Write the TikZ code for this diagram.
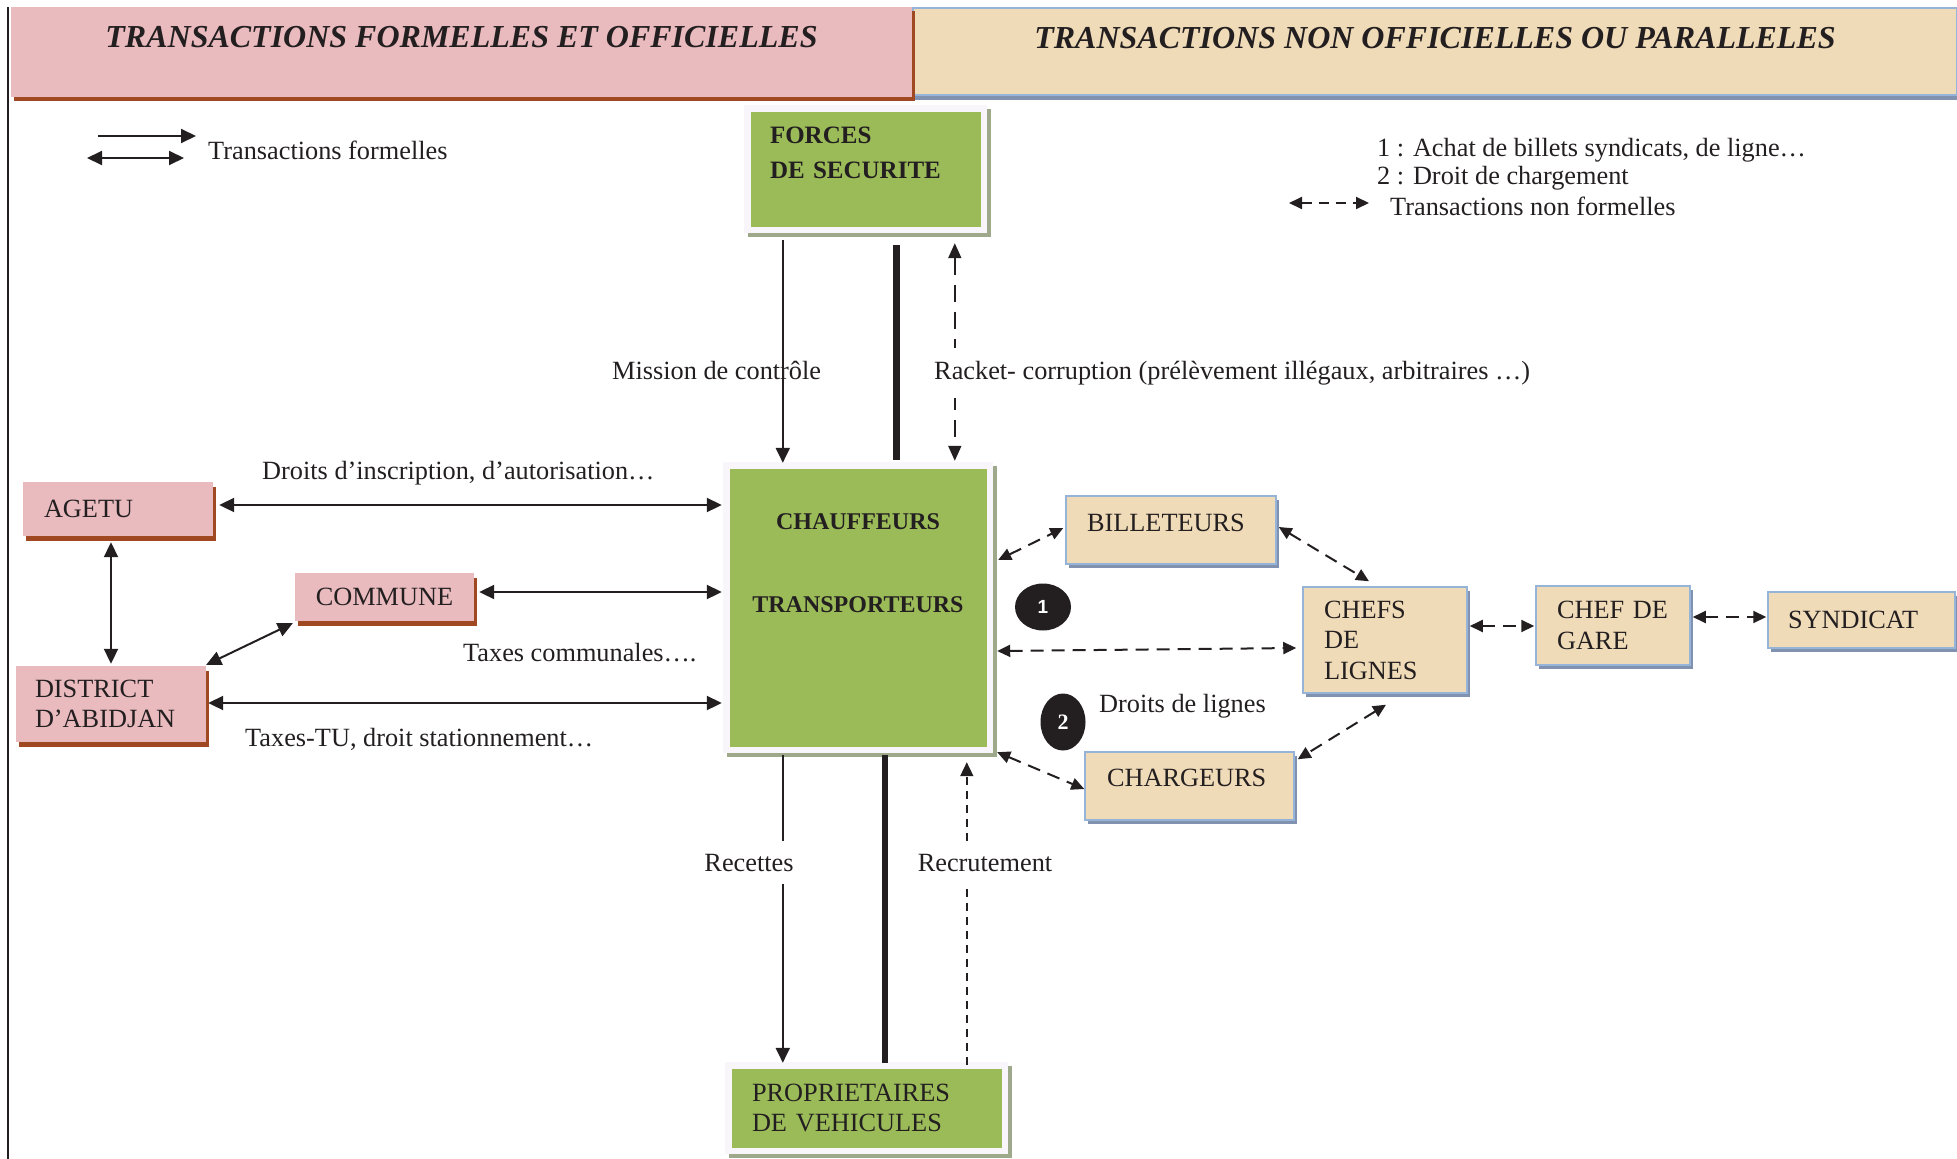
\documentclass[tikz,border=0pt]{standalone}
\usepackage{fontspec}
\setmainfont{Liberation Serif}
\newfontfamily\sansbold{Liberation Sans}
\usetikzlibrary{arrows.meta,shadows,calc,shapes.geometric}
\definecolor{ink}{RGB}{35,31,32}
\definecolor{pinkfill}{RGB}{233,186,190}
\definecolor{pinkshadow}{RGB}{160,72,34}
\definecolor{beigefill}{RGB}{240,219,184}
\definecolor{bluebord}{RGB}{150,180,215}
\definecolor{blueshadow}{RGB}{128,146,176}
\definecolor{gfill}{RGB}{155,187,89}
\definecolor{framewhite}{RGB}{248,246,250}
\definecolor{gshadow}{RGB}{158,168,138}
\begin{document}
\begin{tikzpicture}[x=1pt,y=-1pt,
  every node/.style={text=ink},
  txt/.style={font=\fontsize{26.3}{30}\selectfont, inner sep=0pt},
  pinkbox/.style={fill=pinkfill, inner sep=0pt, font=\fontsize{26.3}{30}\selectfont,
    drop shadow={shadow xshift=3pt, shadow yshift=-5pt, fill=pinkshadow, opacity=1, draw=none}},
  beigebox/.style={fill=beigefill, draw=bluebord, line width=1.5pt, inner sep=0pt,
    font=\fontsize{26.3}{30.5}\selectfont,
    drop shadow={shadow xshift=3pt, shadow yshift=-4pt, fill=blueshadow, opacity=1, draw=none}},
  greenbox/.style={fill=framewhite, inner sep=0pt,
    drop shadow={shadow xshift=4pt, shadow yshift=-4pt, fill=gshadow, opacity=1, draw=none},
    path picture={\fill[gfill] ([shift={(6.5pt,-6.5pt)}]path picture bounding box.north west)
      rectangle ([shift={(-6pt,6pt)}]path picture bounding box.south east);}},
  sar/.style={line width=2pt, draw=ink, -{Triangle[length=15pt,width=14pt]}},
  dsar/.style={line width=2pt, draw=ink, {Triangle[length=15pt,width=14pt]}-{Triangle[length=15pt,width=14pt]}},
  dar/.style={line width=2pt, draw=ink, dash pattern=on 13pt off 8pt,
    {Triangle[length=13pt,width=12pt]}-{Triangle[length=13pt,width=12pt]}},
  whitelab/.style={txt, fill=white, inner ysep=13pt}
]
\useasboundingbox (0,0) rectangle (1957,1159);

% headers
\node[fill=beigefill, draw=bluebord, line width=1.5pt, inner sep=0pt,
  minimum width=1044pt, minimum height=87pt,
  drop shadow={shadow xshift=0pt, shadow yshift=-5pt, fill=blueshadow, opacity=1, draw=none},
  font=\fontsize{32}{36}\selectfont\bfseries\itshape, text height=22pt, text depth=29pt]
  (head2) at (1435,51.5) {TRANSACTIONS NON OFFICIELLES OU PARALLELES};
\node[fill=pinkfill, inner sep=0pt, minimum width=901pt, minimum height=90pt,
  drop shadow={shadow xshift=3pt, shadow yshift=-4pt, fill=pinkshadow, opacity=1, draw=none},
  font=\fontsize{32}{36}\selectfont\bfseries\itshape, text height=22pt, text depth=32pt]
  (head1) at (461.5,52) {TRANSACTIONS FORMELLES ET OFFICIELLES};

\draw[line width=2pt, ink] (8,7) -- (8,1159);

% legends
\draw[sar] (98,136) -- (196,136);
\draw[dsar] (87,158) -- (184,158);
\node[txt, anchor=base west] (leg1) at (208,159) {Transactions formelles};
\node[txt, anchor=base west] (leg2) at (1377,156) {1 : Achat de billets syndicats, de ligne…};
\node[txt, anchor=base west] (leg3) at (1377,184) {2 : Droit de chargement};
\draw[dar, dash pattern=on 10pt off 7pt] (1289,203) -- (1369,203);
\node[txt, anchor=base west] (leg4) at (1390,215) {Transactions non formelles};

% green boxes
\node[greenbox, minimum width=243pt, minimum height=128pt,
  font=\fontsize{25}{35}\selectfont\bfseries, text width=191pt, inner xsep=26pt, align=left,
  text height=18pt, text depth=69pt] (forces) at (865.5,169) {FORCES\\DE SECURITE};
\node[greenbox, minimum width=270pt, minimum height=291pt,
  font=\fontsize{24}{83}\selectfont\bfseries, text width=240pt, inner xsep=15pt, align=center,
  text height=17pt, text depth=174pt] (chauf) at (858,607.5) {CHAUFFEURS\\TRANSPORTEURS};
\node[greenbox, minimum width=283pt, minimum height=92pt,
  font=\fontsize{26.3}{30}\selectfont, text width=229pt, inner xsep=27pt, align=left]
  (prop) at (866.5,1108) {PROPRIETAIRES\\DE VEHICULES};

% pink boxes
\node[pinkbox, minimum height=54pt, text width=148pt, inner xsep=21pt, align=left]
  (agetu) at (118,509) {AGETU};
\node[pinkbox, minimum width=179pt, minimum height=48pt] (commune) at (384.5,597) {COMMUNE};
\node[pinkbox, minimum height=76pt, text width=152pt, inner xsep=19pt, align=left]
  (district) at (111,704) {DISTRICT\\D’ABIDJAN};

% beige boxes
\node[beigebox, minimum height=68pt, text width=168pt, inner xsep=21pt, align=left,
  text height=18pt, text depth=15pt] (bil) at (1171,530) {BILLETEURS};
\node[beigebox, minimum height=106pt, text width=122pt, inner xsep=21pt, align=left]
  (chefs) at (1385,640) {CHEFS\\DE\\LIGNES};
\node[beigebox, minimum height=79pt, text width=112pt, inner xsep=21pt, align=left]
  (gare) at (1613,625.5) {CHEF DE\\GARE};
\node[beigebox, minimum height=56pt, text width=147pt, inner xsep=20pt, align=left]
  (synd) at (1861.5,620) {SYNDICAT};
\node[beigebox, minimum height=68pt, text width=165pt, inner xsep=22pt, align=left,
  text height=18pt, text depth=17pt] (charg) at (1189.5,786) {CHARGEURS};

% numbered ellipses
\node[ellipse, fill=ink, minimum width=56pt, minimum height=47pt, inner sep=0pt, text=white,
  font=\sansbold\bfseries\fontsize{19}{19}\selectfont] (c1) at (1043,607) {1};
\node[ellipse, fill=ink, minimum width=45pt, minimum height=57pt, inner sep=0pt, text=white,
  font=\bfseries\fontsize{22}{22}\selectfont] (c2) at (1063,722) {2};

% top connectors
\draw[sar] ($(forces.south west)+(39,7)$) -- ($(chauf.north west)+(60,1)$);
\draw[line width=7pt, ink] ($(forces.south west)+(153,12)$) -- ($(chauf.north west)+(174,-2)$);
\draw[line width=1.8pt, draw=ink, dash pattern=on 17pt off 10pt,
  {Triangle[length=15pt,width=13pt]}-{Triangle[length=15pt,width=13pt]}]
  ($(forces.south west)+(211,10)$) -- ($(chauf.north west)+(232,-1)$);
\node[txt, anchor=base west] (lmission) at (612,379) {Mission de contrôle};
\node[whitelab, anchor=base west, inner xsep=0pt] (lracket) at (934,379)
  {Racket- corruption (prélèvement illégaux, arbitraires …)};

% left connectors
\draw[dsar] ($(agetu.east)+(6,-4)$) -- ($(agetu.east -| chauf.west)+(-1,-4)$);
\draw[dsar] ($(commune.east)+(5,-5)$) -- ($(commune.east -| chauf.west)+(-1,-5)$);
\draw[dsar] ($(district.east)+(2,-1)$) -- ($(district.east -| chauf.west)+(-1,-1)$);
\draw[dsar] ($(agetu.south)+(-7,6)$) -- ($(district.north)+(0,-2)$);
\draw[dsar] ($(commune.south west)+(-2,2)$) -- ($(district.north east)+(0,-1)$);
\node[txt, anchor=base west] (linscr) at (262,479) {Droits d’inscription, d’autorisation…};
\node[txt, anchor=base west] (ltaxc) at (463,661) {Taxes communales….};
\node[txt, anchor=base west] (ltaxtu) at (245,746) {Taxes-TU, droit stationnement…};

% right dashed connectors
\draw[dar] ($(chauf.east)+(5,-47.5)$) -- ($(bil.west)+(-2,-2)$);
\draw[dar] ($(bil.east)+(2,-3)$) -- ($(chefs.north)+(-16,-5)$);
\draw[dar] ($(chauf.east)+(4,43.5)$) -- ($(chefs.west)+(-6,8)$);
\draw[dar] ($(chefs.east)+(2,-14)$) -- ($(gare.west)+(-1,0.5)$);
\draw[dar] ($(gare.east)+(2,-8.5)$) -- ($(synd.west)+(-1,-3)$);
\draw[dar] ($(chefs.south)+(1,11)$) -- ($(charg.north east)+(3,8)$);
\draw[dar] ($(chauf.south east)+(4,-1)$) -- ($(charg.west)+(0,3)$);
\node[txt, anchor=base west] (llignes) at (1099,712) {Droits de lignes};

% bottom connectors
\draw[sar] ($(chauf.south west)+(60,2)$) -- ($(prop.north west)+(58,1)$);
\draw[line width=6pt, ink] ($(chauf.south west)+(162,2)$) -- ($(prop.north west)+(160,1)$);
\draw[line width=1.6pt, draw=ink, dash pattern=on 8pt off 6pt,
  -{Triangle[length=14pt,width=13pt]}]
  ($(prop.north west)+(242,3)$) -- ($(chauf.south west)+(244,9)$);
\node[whitelab, anchor=base] (lrecettes) at (749,871) {Recettes};
\node[whitelab, anchor=base] (lrecrut) at (985,871) {Recrutement};
\end{tikzpicture}
\end{document}
